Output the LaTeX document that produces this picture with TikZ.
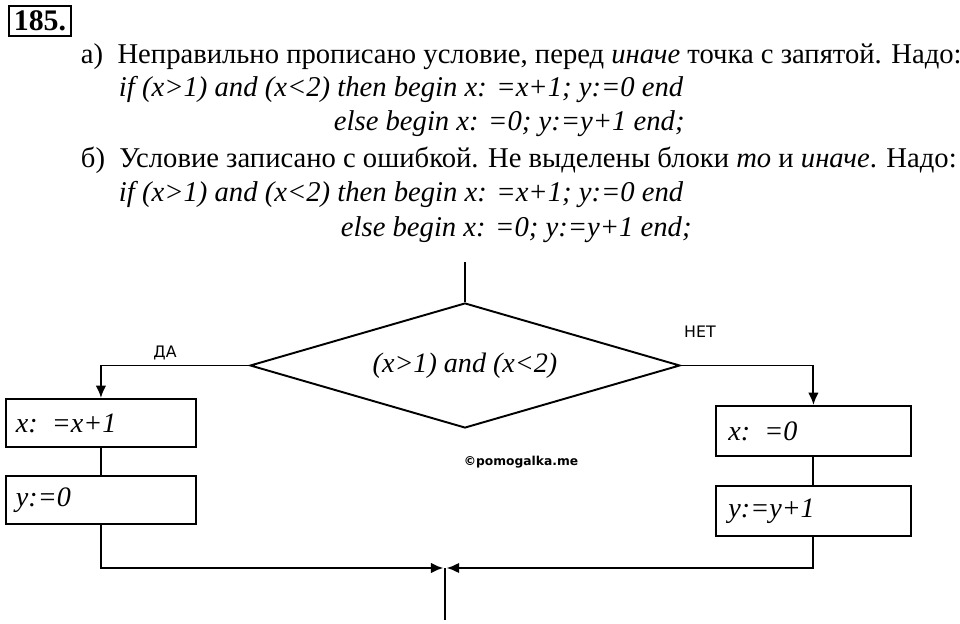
\documentclass[tikz,border=0pt]{standalone}
\usepackage{fontspec}
\setmainfont{Liberation Serif}
\newfontfamily\sansf{DejaVu Sans}
\usetikzlibrary{arrows.meta, shapes.geometric}

\begin{document}
\begin{tikzpicture}[x=0.02cm, y=-0.02cm, line width=1.1pt, >={Latex[length=7pt,width=6pt]},
    txt/.style={anchor=west, inner sep=0pt, font=\fontsize{16.3}{18}\selectfont},
    blk/.style={draw, minimum width=3.8cm, minimum height=0.96cm, anchor=north west,
        text width=3.4cm, align=left, font=\fontsize{16}{18}\selectfont\itshape},
    lbl/.style={font=\sansf\fontsize{9}{10}\selectfont}]
    \useasboundingbox (0,0) rectangle (960,624);
    % task text
    \node[draw, inner sep=3pt, font=\bfseries\fontsize{17}{18}\selectfont] (num) at (40,21) {185.};
    \node[txt] (la) at (80,57) {а)\ \ Неправильно прописано условие, перед \textit{иначе} точка с запятой. Надо:};
    \node[txt] (la1) at (118,90) {\itshape if (x>1) and (x<2) then begin x: =x+1; y:=0 end};
    \node[txt] (la2) at (333,124) {\itshape else begin x: =0; y:=y+1 end;};
    \node[txt] (lb) at (80,160) {б)\ \ Условие записано с ошибкой. Не выделены блоки \textit{то} и \textit{иначе}. Надо:};
    \node[txt] (lb1) at (118,195) {\itshape if (x>1) and (x<2) then begin x: =x+1; y:=0 end};
    \node[txt] (lb2) at (340,230) {\itshape else begin x: =0; y:=y+1 end;};
    % flowchart
    \coordinate (top) at (465,262);
    \node[draw, diamond, aspect=3.37, minimum width=8.6cm, minimum height=2.5cm, inner sep=0pt,
        font=\fontsize{16}{18}\selectfont\itshape] (cond) at (465,365.5) {(x>1) and (x<2)};
    \node[blk] (b1) at (5,398) {x: =x+1};
    \node[blk] (b2) at (5,475) {y:=0};
    \node[blk, minimum width=3.9cm, minimum height=1cm] (b3) at (715,405) {x: =0};
    \node[blk, minimum width=3.9cm, minimum height=1cm] (b4) at (715,485) {y:=y+1};
    \coordinate (m) at (445,568);
    \coordinate (bot) at (445,620);
    \node[lbl] (da) at (165,353) {ДА};
    \node[lbl] (net) at (700,332) {НЕТ};
    \node[font=\sansf\bfseries\fontsize{7}{8}\selectfont] (wm) at (521,462) {©pomogalka.me};

    \draw (top) -- (cond.north);
    \draw[->] (cond.west) -| (b1.north);
    \draw[->] (cond.east) -| (b3.north);
    \draw (b1) -- (b2);
    \draw (b3) -- (b4);
    \draw[->] (b2.south) |- ([xshift=-1]m);
    \draw[->] (b4.south) |- ([xshift=1]m);
    \draw (m) -- (bot);
\end{tikzpicture}
\end{document}
